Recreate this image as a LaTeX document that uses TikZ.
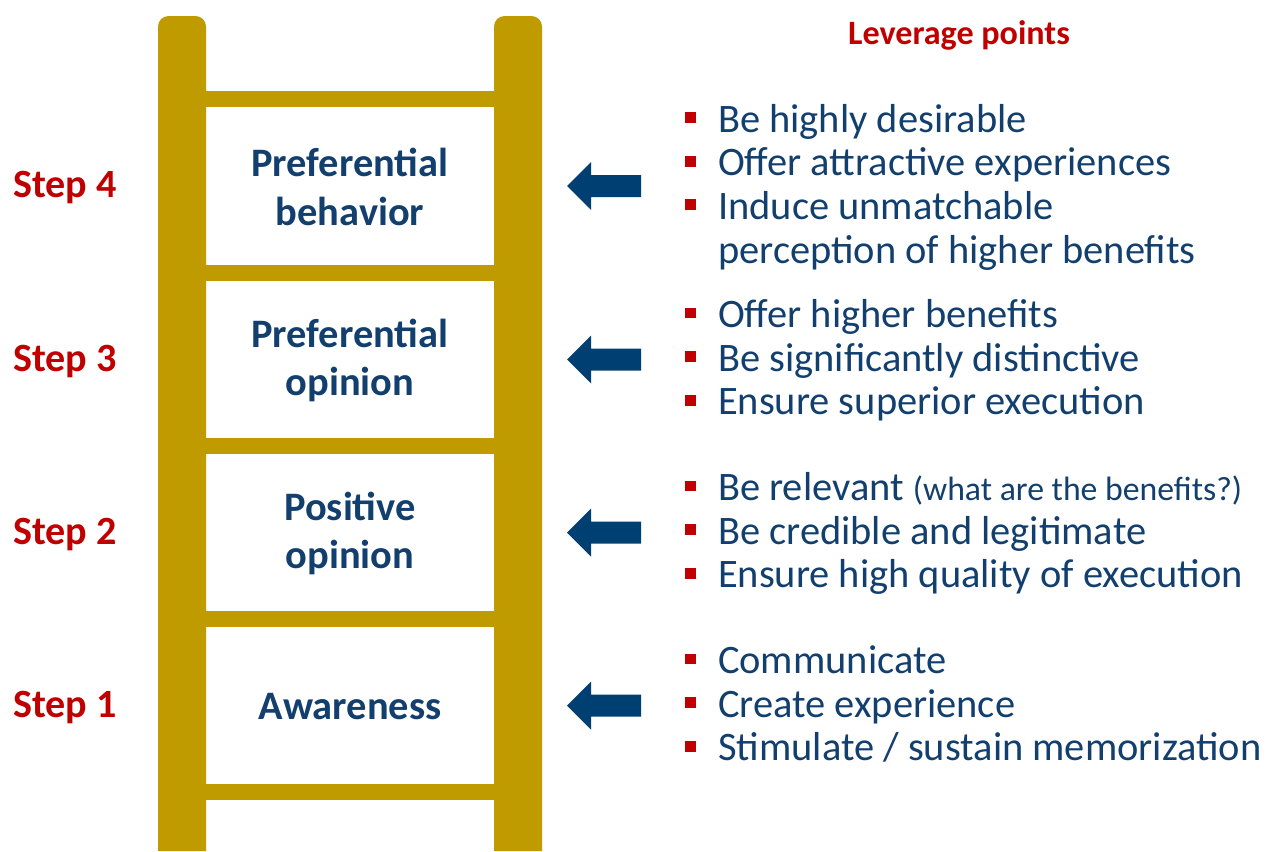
\documentclass[tikz,border=0pt]{standalone}
\usepackage{fontspec}
\setmainfont{Carlito}
\usetikzlibrary{positioning}

\definecolor{laddergold}{RGB}{192,155,0}
\definecolor{textblue}{RGB}{18,63,110}
\definecolor{arrowblue}{RGB}{0,63,114}
\definecolor{stepred}{RGB}{192,0,0}

\newcommand{\redsq}{\raisebox{2.6pt}{\textcolor{stepred}{\rule{3.1pt}{3.1pt}}}}

\begin{document}
\begin{tikzpicture}[x=0.01cm,y=-0.01cm]
\tikzset{
  rungbox/.style={minimum width=2.88cm,minimum height=1.58cm,inner sep=0pt,align=center,text=textblue,font=\fontsize{11.5}{13.7}\selectfont\bfseries},
  steplabel/.style={text=stepred,font=\fontsize{11.4}{13}\selectfont\bfseries,inner sep=0pt},
  leverlist/.style={anchor=west,inner sep=0pt,text=textblue,font=\fontsize{11.5}{12.4}\selectfont},
  pusharrow/.pic={\fill[arrowblue] (0,0) -- (24,-24) -- (24,-11) -- (74,-11) -- (74,11) -- (24,11) -- (24,24) -- cycle;}
}
\useasboundingbox (0,0) rectangle (1267,851);
% ladder
\fill[laddergold] (158,851) [rounded corners=3pt] -- (158,16) -- (206,16) [sharp corners] -- (206,851) -- cycle;
\fill[laddergold] (494,851) [rounded corners=3pt] -- (494,16) -- (542,16) [sharp corners] -- (542,851) -- cycle;
\fill[laddergold] (206,91) rectangle (494,107);
\fill[laddergold] (206,265) rectangle (494,281);
\fill[laddergold] (206,438) rectangle (494,454);
\fill[laddergold] (206,611) rectangle (494,627);
\fill[laddergold] (206,784) rectangle (494,800);

\node[rungbox] (box4) at (350,187) {Preferential\\behavior};
\node[rungbox] (box3) at (350,360.5) {Preferential\\opinion};
\node[rungbox] (box2) at (350,533.5) {Positive\\opinion};
\node[rungbox] (box1) at (350,706.5) {Awareness};

\node[steplabel] (step4) at (65,188) {Step 4};
\node[steplabel] (step3) at (65,361.5) {Step 3};
\node[steplabel] (step2) at (65,534.5) {Step 2};
\node[steplabel] (step1) at (65,707.5) {Step 1};

\node[text=stepred,font=\fontsize{9.7}{11}\selectfont\bfseries,inner sep=0pt] (title) at (959,35) {Leverage points};

% arrows
\pic at (567,186) {pusharrow};
\pic at (567,359.5) {pusharrow};
\pic at (567,532.5) {pusharrow};
\pic at (567,705.5) {pusharrow};

% lists
\node[leverlist] (lever4) at (684,189) {\begin{tabular}{@{}l@{\hspace{6.4pt}}l@{}}
\redsq & Be highly desirable\\
\redsq & Offer attractive experiences\\
\redsq & Induce unmatchable\\
 & perception of higher benefits
\end{tabular}};
\node[leverlist] (lever3) at (684,362.5) {\begin{tabular}{@{}l@{\hspace{6.4pt}}l@{}}
\redsq & Offer higher benefits\\
\redsq & Be significantly distinctive\\
\redsq & Ensure superior execution
\end{tabular}};
\node[leverlist] (lever2) at (684,535.5) {\begin{tabular}{@{}l@{\hspace{6.4pt}}l@{}}
\redsq & Be relevant {\fontsize{9.6}{11}\selectfont(what are the benefits?)}\\
\redsq & Be credible and legitimate\\
\redsq & Ensure high quality of execution
\end{tabular}};
\node[leverlist] (lever1) at (684,708.5) {\begin{tabular}{@{}l@{\hspace{6.4pt}}l@{}}
\redsq & Communicate\\
\redsq & Create experience\\
\redsq & Stimulate / sustain memorization
\end{tabular}};
\end{tikzpicture}
\end{document}
